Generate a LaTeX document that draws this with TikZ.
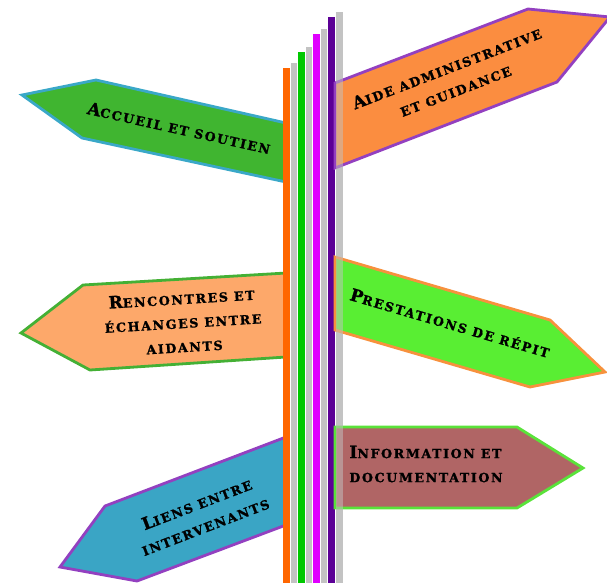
\documentclass[tikz,border=0pt]{standalone}
\usepackage{fontspec}
\newfontfamily\signfont[LetterSpace=13,FakeBold=1.3]{DejaVu Serif Bold}
\newcommand\bigL[1]{{\fontsize{17}{17}\selectfont #1}}
\definecolor{poleorange}{HTML}{FF6600}
\definecolor{polegray}{HTML}{C3C3C3}
\definecolor{polegreen}{HTML}{00C800}
\definecolor{polemag}{HTML}{E000FF}
\definecolor{polepurple}{HTML}{5C0096}
\definecolor{fAccueil}{HTML}{40B530}
\definecolor{bAccueil}{HTML}{3AA8C8}
\definecolor{fAide}{HTML}{FB8D40}
\definecolor{bPurple}{HTML}{9340C0}
\definecolor{fRencontres}{HTML}{FDA86A}
\definecolor{bRencontres}{HTML}{44B035}
\definecolor{fPrest}{HTML}{59EE33}
\definecolor{bPrest}{HTML}{F7913D}
\definecolor{fInfo}{HTML}{B06565}
\definecolor{bInfo}{HTML}{5AE23A}
\definecolor{fLiens}{HTML}{3AA5C5}
\tikzset{
  sign/.style={line width=2.8pt, line join=miter},
  signtext/.style={font=\signfont\fontsize{12.6}{24}\selectfont, inner sep=0pt, text=black}
}
\begin{document}
\begin{tikzpicture}[x=1pt,y=-1pt]
\useasboundingbox (0,0) rectangle (607,582);
% left signs
\draw[sign, fill=fAccueil, draw=bAccueil] (22,95) -- (96,80) -- (286,123) -- (286,182) -- (82,138) -- cycle;
\draw[sign, fill=fRencontres, draw=bRencontres] (21,333) -- (83,285) -- (286,273) -- (286,357) -- (90,370) -- cycle;
\draw[sign, fill=fLiens, draw=bPurple] (286,437) -- (105,506) -- (60,567) -- (137,581) -- (286,525) -- cycle;
% poles
\fill[poleorange] (283,68) rectangle (290,583);
\fill[polegray] (291,63) rectangle (297,583);
\fill[polegreen] (298,52) rectangle (305,583);
\fill[polegray] (306,47) rectangle (312,583);
\fill[polemag] (313,34) rectangle (320,583);
\fill[polegray] (321,29) rectangle (327,583);
\fill[polepurple] (328,17) rectangle (335,583);
\fill[polegray] (336,12) rectangle (343,583);
% right signs
\draw[sign, fill=fAide, draw=bPurple] (335,83) -- (528,9) -- (610,17) -- (557,82) -- (335,168) -- cycle;
\draw[sign, fill=fPrest, draw=bPrest] (335,257) -- (550,320) -- (605,372) -- (530,387) -- (335,330) -- cycle;
\draw[sign, fill=fInfo, draw=bInfo] (335,427) -- (517,427) -- (583,468) -- (517,508) -- (335,508) -- cycle;
% last pole seen through the right signs
\fill[polegray, opacity=0.5] (336,12) rectangle (343,583);
% texts
\node[signtext, rotate=-12.5] (accueil) at (179,128) {\bigL{A}CCUEIL ET SOUTIEN};
\node[signtext, rotate=21, align=center] (aide) at (451,79) {\bigL{A}IDE ADMINISTRATIVE\\ET GUIDANCE};
\node[signtext, rotate=3.5, align=center] (rencontres) at (183,322) {\bigL{R}ENCONTRES ET\\ÉCHANGES ENTRE\\AIDANTS};
\node[signtext, rotate=-16.3] (prest) at (450,323) {\bigL{P}RESTATIONS DE RÉPIT};
\node[signtext, align=left] (info) at (426,464) {\bigL{I}NFORMATION ET\\DOCUMENTATION};
\node[signtext, rotate=21, align=center] (liens) at (201,515) {\bigL{L}IENS ENTRE\\INTERVENANTS};
\end{tikzpicture}
\end{document}
